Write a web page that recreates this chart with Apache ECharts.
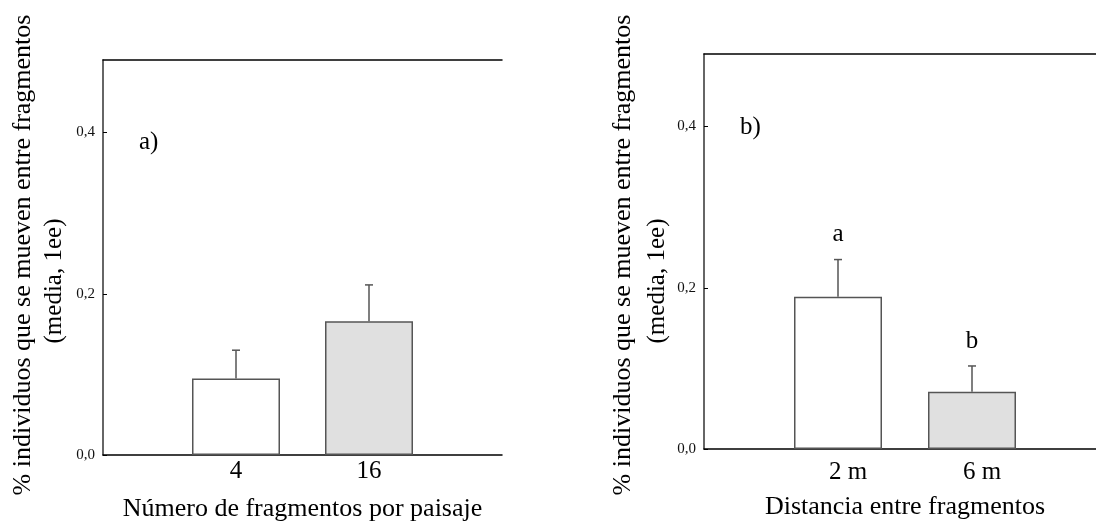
<!DOCTYPE html>
<html>
<head>
<meta charset="utf-8">
<script src="https://cdn.jsdelivr.net/npm/echarts@6/dist/echarts.min.js"></script>
<style>html,body{margin:0;padding:0;background:#fff}#c{width:1096px;height:529px}</style>
</head>
<body>
<div id="c"></div>
<script>
// ---- data ----
const catsA = ['', '4', '16', ''];
const meansA = [0.095, 0.166];
const errA = [0.035, 0.045];
const catsB = ['', '2 m', '6 m', ''];
const meansB = [0.189, 0.071];
const errB = [0.046, 0.032];
const lettersB = ['a', 'b'];
const yTicks = [0, 0.2, 0.4];
const yTitle1 = '% individuos que se mueven entre fragmentos';
const yTitle2 = '(media, 1ee)';
const xTitleA = 'Número de fragmentos por paisaje';
const xTitleB = 'Distancia entre fragmentos';

const FONT = 'Liberation Serif';
const barFills = ['#ffffff', '#e0e0e0'];
const edge = '#555555';

function barData(means) {
  return ['-'].concat(means.map((v, i) => ({ value: v, itemStyle: { color: barFills[i] } }))).concat(['-']);
}
function errData(means, errs, letters) {
  return means.map((m, i) => [i + 1, m, errs[i], letters ? letters[i] : '']);
}
function errRender(params, api) {
  const x = api.value(0), m = api.value(1), e = api.value(2);
  const p0 = api.coord([x, m]);
  const p1 = api.coord([x, m + e]);
  const letter = api.value(3);
  const children = [
    { type: 'line', shape: { x1: p0[0], y1: p0[1], x2: p1[0], y2: p1[1] }, style: { stroke: edge, lineWidth: 1.5 } },
    { type: 'line', shape: { x1: p1[0] - 4, y1: p1[1], x2: p1[0] + 4, y2: p1[1] }, style: { stroke: edge, lineWidth: 1.5 } }
  ];
  if (letter) {
    children.push({ type: 'text', style: { text: letter, x: p1[0], y: p1[1] - 25, align: 'center', verticalAlign: 'middle', font: '25px "' + FONT + '"', fill: '#000' } });
  }
  return { type: 'group', children };
}

function yAxisFor(gi) {
  return {
    type: 'value', gridIndex: gi, min: 0, max: 0.49, interval: 0.2,
    axisLine: { show: true, lineStyle: { color: '#333', width: 1.5 } },
    axisTick: { show: true, inside: true, length: 4, lineStyle: { color: '#000' } },
    axisLabel: {
      showMaxLabel: false, margin: 8, color: '#111', fontFamily: FONT, fontSize: 15,
      formatter: v => yTicks.some(t => Math.abs(t - v) < 1e-9) ? v.toFixed(1).replace('.', ',') : ''
    },
    splitLine: { show: false }
  };
}
function xAxisFor(gi, cats, name, gap, labelMargin, labelPad) {
  return {
    type: 'category', gridIndex: gi, data: cats, boundaryGap: false,
    axisLine: { show: true, lineStyle: { color: '#000', width: 1.5 } },
    axisTick: { show: false },
    axisLabel: { color: '#000', fontFamily: FONT, fontSize: 25, margin: labelMargin, interval: 0, padding: labelPad },
    name: name, nameLocation: 'middle', nameGap: gap,
    nameTextStyle: { color: '#000', fontFamily: FONT, fontSize: 26 }
  };
}
function topAxis(gi, cats) {
  return {
    type: 'category', gridIndex: gi, data: cats, boundaryGap: false, position: 'top',
    axisLine: { show: true, lineStyle: { color: '#000', width: 1.5 } },
    axisTick: { show: false }, axisLabel: { show: false }
  };
}
function yTitle(x, y, text, size) {
  return { type: 'text', x: x, y: y, rotation: Math.PI / 2,
    style: { text: text, align: 'center', verticalAlign: 'middle', font: size + 'px "' + FONT + '"', fill: '#000' } };
}

const chart = echarts.init(document.getElementById('c'), null, { renderer: 'canvas' });
chart.setOption({
  animation: false,
  backgroundColor: '#fff',
  grid: [
    { left: 103, top: 60, width: 399, height: 395, outerBoundsMode: 'none' },
    { left: 704, top: 54, width: 402, height: 395, outerBoundsMode: 'none' }
  ],
  xAxis: [
    xAxisFor(0, catsA, xTitleA, 41, 4, 0),
    xAxisFor(1, catsB, xTitleB, 45, 11, [0, 0, 0, 20]),
    topAxis(0, catsA),
    topAxis(1, catsB)
  ],
  yAxis: [yAxisFor(0), yAxisFor(1)],
  series: [
    { type: 'bar', xAxisIndex: 0, yAxisIndex: 0, barWidth: 88, data: barData(meansA),
      itemStyle: { borderColor: edge, borderWidth: 1.5 } },
    { type: 'bar', xAxisIndex: 1, yAxisIndex: 1, barWidth: 88, data: barData(meansB),
      itemStyle: { borderColor: edge, borderWidth: 1.5 } },
    { type: 'custom', xAxisIndex: 0, yAxisIndex: 0, renderItem: errRender, data: errData(meansA, errA), z: 3 },
    { type: 'custom', xAxisIndex: 1, yAxisIndex: 1, renderItem: errRender, data: errData(meansB, errB, lettersB), z: 3 }
  ],
  graphic: [
    yTitle(23, 255, yTitle1, 26),
    yTitle(54, 281, yTitle2, 25),
    yTitle(623, 255, yTitle1, 26),
    yTitle(657, 281, yTitle2, 25),
    { type: 'text', x: 139, y: 142, style: { text: 'a)', verticalAlign: 'middle', font: '25px "' + FONT + '"', fill: '#000' } },
    { type: 'text', x: 740, y: 127, style: { text: 'b)', verticalAlign: 'middle', font: '25px "' + FONT + '"', fill: '#000' } }
  ]
});
</script>
</body>
</html>
